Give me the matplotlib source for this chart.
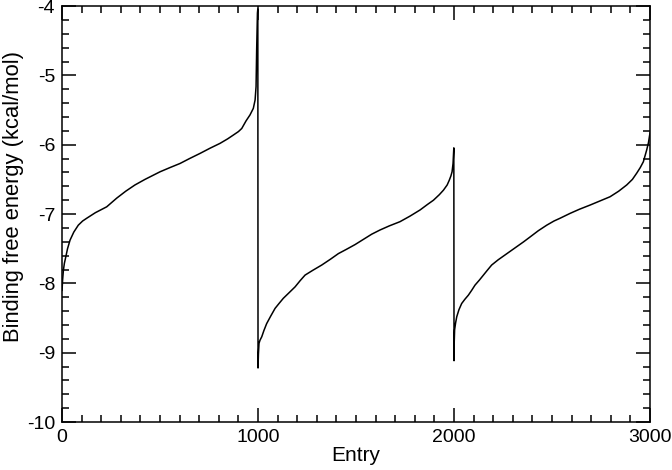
import matplotlib.pyplot as plt

# Данные (три отсортированных набора по ~1000 записей)
entry = [0, 3, 7, 12, 19, 28, 41, 60, 83, 105, 126, 170, 228, 279, 325, 372, 423,
         500, 550, 602, 650, 704, 755, 806, 845, 874, 900, 917, 939, 959, 976,
         985, 990, 993, 997, 999,
         1000, 1002, 1005, 1010, 1019, 1030, 1044, 1065, 1087, 1107, 1129, 1160,
         1189, 1215, 1240, 1280, 1325, 1370, 1410, 1450, 1495, 1546, 1580, 1622,
         1670, 1724, 1775, 1827, 1865, 1895, 1925, 1946, 1965, 1976, 1984,
         1990, 1995, 1999,
         2000, 2001, 2003, 2008, 2014, 2025, 2039, 2055, 2073, 2090, 2107, 2130,
         2150, 2170, 2192, 2225, 2260, 2290, 2320, 2355, 2388, 2430, 2473, 2510,
         2541, 2592, 2640, 2694, 2745, 2796, 2840, 2881, 2910, 2932, 2950, 2966,
         2983, 2992, 2997, 3000]
energy = [-8.10, -7.95, -7.81, -7.71, -7.62, -7.50, -7.375, -7.26, -7.16, -7.10,
          -7.06, -6.98, -6.895, -6.77, -6.67, -6.58, -6.50,
          -6.39, -6.33, -6.27, -6.20, -6.125, -6.05, -5.98, -5.915, -5.86,
          -5.81, -5.765, -5.655, -5.57, -5.475,
          -5.355, -5.16, -4.635, -4.10, -4.04,
          -9.22, -9.02, -8.865, -8.82, -8.77, -8.68, -8.58, -8.47, -8.36, -8.29,
          -8.215, -8.13, -8.05, -7.96, -7.88, -7.81, -7.735, -7.65, -7.57,
          -7.51, -7.44, -7.35, -7.29, -7.23, -7.17, -7.11, -7.03, -6.94, -6.86,
          -6.80, -6.72, -6.655, -6.58, -6.51, -6.45,
          -6.39, -6.27, -6.045,
          -9.115, -8.85, -8.67, -8.57, -8.48, -8.38, -8.29, -8.23, -8.17, -8.10,
          -8.025, -7.95, -7.88, -7.81, -7.735, -7.66, -7.59, -7.53, -7.47, -7.40,
          -7.33, -7.24, -7.16, -7.10, -7.06, -6.99, -6.93, -6.87, -6.81, -6.75,
          -6.67, -6.58, -6.50, -6.41, -6.33, -6.245,
          -6.075, -5.97, -5.88, -5.83]

x_ticks = [0, 1000, 2000, 3000]
y_ticks = [-10, -9, -8, -7, -6, -5, -4]

plt.rcParams['font.family'] = ['Liberation Sans', 'DejaVu Sans']
plt.rcParams['axes.unicode_minus'] = False

fig = plt.figure(figsize=(6.72, 4.70), dpi=100)
ax = fig.add_axes([0.0923, 0.102, 0.875, 0.885])

ax.plot(entry, energy, color='black', linewidth=1.1)

ax.set_xlim(0, 3000)
ax.set_ylim(-10, -4)
ax.set_xticks(x_ticks)
ax.set_yticks(y_ticks)
ax.set_xticks(range(0, 3001, 100), minor=True)
ax.set_yticks([-10 + 0.2 * i for i in range(31)], minor=True)

ax.tick_params(which='both', direction='in', top=True, right=True,
               width=1.1, labelsize=14, pad=5)
ax.tick_params(which='major', length=10)
ax.tick_params(which='minor', length=5)
for s in ax.spines.values():
    s.set_linewidth(1.1)

ax.set_xlabel('Entry', fontsize=15, labelpad=0)
ax.set_ylabel('Binding free energy (kcal/mol)', fontsize=15.8)
ax.yaxis.set_label_coords(-0.064, 0.543)

fig.savefig('out.png', dpi=100)
